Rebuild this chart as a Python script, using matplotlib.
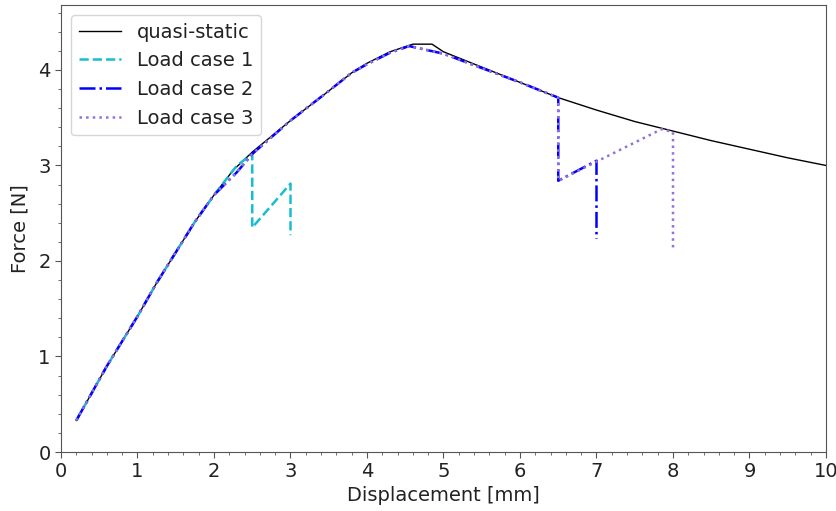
import matplotlib
matplotlib.use("Agg")
import matplotlib.pyplot as plt
from matplotlib.ticker import MultipleLocator

# Quasi-static force-displacement response
qs_disp = [0.2, 0.6, 1.0, 1.25, 1.5, 1.75, 2.0, 2.25, 2.5, 3.0, 3.5, 3.8, 4.0, 4.3,
           4.6, 4.85, 5.0, 5.5, 6.0, 6.5, 7.0, 7.5, 8.0, 8.5, 9.0, 9.5, 10.0]
qs_force = [0.33, 0.90, 1.42, 1.77, 2.09, 2.41, 2.69, 2.95, 3.14, 3.47, 3.78, 3.97, 4.07, 4.19,
            4.27, 4.27, 4.19, 4.03, 3.87, 3.71, 3.58, 3.46, 3.36, 3.26, 3.17, 3.08, 3.0]

# Load case 1: unload at 2.5 mm, reload to 3.0 mm, unload
lc1_disp = [0.2, 0.6, 1.0, 1.25, 1.5, 1.75, 2.0, 2.3, 2.5, 2.5, 3.0, 3.0]
lc1_force = [0.33, 0.90, 1.42, 1.77, 2.09, 2.41, 2.69, 3.00, 3.12, 2.35, 2.81, 2.27]

# Load case 2: unload at 6.5 mm, reload to 7.0 mm, unload
lc2_disp = [0.2, 0.6, 1.0, 1.25, 1.5, 1.75, 2.0, 2.3, 2.5, 3.0, 3.5, 3.8, 4.0, 4.3,
            4.55, 5.0, 5.5, 6.0, 6.5, 6.5, 7.0, 7.0]
lc2_force = [0.33, 0.90, 1.42, 1.77, 2.09, 2.41, 2.69, 2.93, 3.12, 3.47, 3.78, 3.97, 4.06, 4.18,
             4.25, 4.17, 4.02, 3.87, 3.71, 2.84, 3.05, 2.23]

# Load case 3: unload at 6.5 mm, reload until 8.0 mm, unload
lc3_disp = [0.2, 0.6, 1.0, 1.25, 1.5, 1.75, 2.0, 2.3, 2.5, 3.0, 3.5, 3.8, 4.0, 4.3,
            4.55, 5.0, 5.5, 6.0, 6.5, 6.5, 7.85, 8.0, 8.0]
lc3_force = [0.33, 0.90, 1.42, 1.77, 2.09, 2.41, 2.69, 2.93, 3.12, 3.47, 3.78, 3.97, 4.06, 4.18,
             4.25, 4.17, 4.02, 3.87, 3.71, 2.84, 3.38, 3.35, 2.12]

fig = plt.figure(figsize=(8.37, 5.11), dpi=100)
ax = fig.add_axes([61 / 837, 59 / 511, 765 / 837, 447 / 511])

ax.plot(qs_disp, qs_force, color="black", lw=1.0, label="quasi-static")
ax.plot(lc1_disp, lc1_force, color="#17becf", lw=1.8, ls="--", label="Load case 1")
ax.plot(lc2_disp, lc2_force, color="blue", lw=1.8, ls="-.", label="Load case 2")
ax.plot(lc3_disp, lc3_force, color="mediumpurple", lw=1.8, ls=":", label="Load case 3")

ax.set_xlim(0, 10)
ax.set_ylim(0, 4.68)
ax.xaxis.set_major_locator(MultipleLocator(1))
ax.xaxis.set_minor_locator(MultipleLocator(0.2))
ax.yaxis.set_major_locator(MultipleLocator(1))
ax.yaxis.set_minor_locator(MultipleLocator(0.2))

for sp in ax.spines.values():
    sp.set_color("#555555")
ax.tick_params(which="both", colors="#555555", labelcolor="#222222", labelsize=14)
ax.tick_params(which="major", length=4)
ax.tick_params(which="minor", length=2.5)

ax.set_xlabel("Displacement [mm]", fontsize=14, color="#222222", labelpad=3)
ax.set_ylabel("Force [N]", fontsize=14, color="#222222", labelpad=6)

leg = ax.legend(loc="upper left", fontsize=14, handlelength=2.2)
for t in leg.get_texts():
    t.set_color("#222222")

fig.savefig("out.png", dpi=100)
